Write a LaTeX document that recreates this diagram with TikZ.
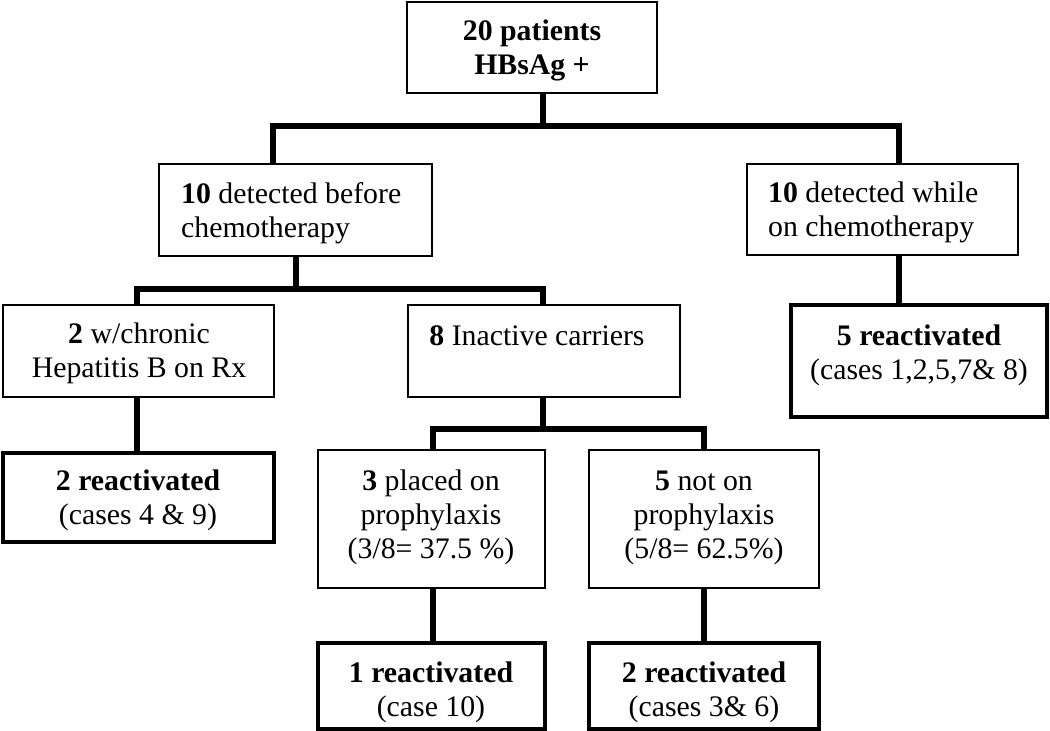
\documentclass[tikz,border=0pt]{standalone}
\usepackage{fontspec}
\setmainfont{Liberation Serif}
\newcommand\fl{\rule{0pt}{22pt}}
\begin{document}
\begin{tikzpicture}[x=1pt,y=-1pt,
  box/.style={draw=black, line width=2.4pt, rectangle, inner sep=0pt},
  rbox/.style={box, line width=3.2pt},
  conn/.style={line width=6pt, line join=miter, line cap=butt},
  txt/.style={inner sep=0pt, anchor=north, align=center, font=\fontsize{29.8}{34}\selectfont},
  ltxt/.style={txt, anchor=north west, align=left}]
\fill[white] (0,0) rectangle (1050,731);
\useasboundingbox (0,0) rectangle (1050,731);

% boxes
\node[box, minimum width=250pt, minimum height=91pt] (n0) at (532,47.5) {};
\node[box, minimum width=273pt, minimum height=92pt] (n1) at (295.5,210) {};
\node[box, minimum width=271pt, minimum height=91pt] (n2) at (882.5,209.5) {};
\node[box, minimum width=271pt, minimum height=92pt] (n3) at (138.5,351) {};
\node[box, minimum width=272pt, minimum height=92pt] (n4) at (544,351) {};
\node[rbox, minimum width=256pt, minimum height=112pt] (n5) at (919,361) {};
\node[rbox, minimum width=271pt, minimum height=89pt] (n6) at (138.5,497.5) {};
\node[box, minimum width=227pt, minimum height=138pt] (n7) at (431.5,519) {};
\node[box, minimum width=230pt, minimum height=138pt] (n8) at (704,519) {};
\node[rbox, minimum width=227pt, minimum height=86pt] (n9) at (431.5,686) {};
\node[rbox, minimum width=230pt, minimum height=86pt] (n10) at (704,686) {};

% texts
\node[txt] (t0) at (532,18) {\fl\textbf{20 patients}\\\textbf{HBsAg +}};
\node[ltxt] (t1) at (181,181) {\fl\textbf{10} detected before\\chemotherapy};
\node[ltxt] (t2) at (768,180) {\fl\textbf{10} detected while\\on chemotherapy};
\node[txt] (t3) at (139,321) {\fl\textbf{2} w/chronic\\Hepatitis B on Rx};
\node[txt] (t4) at (537,323) {\fl\textbf{8} Inactive carriers};
\node[txt] (t5) at (919,323) {\fl\textbf{5 reactivated}\\(cases 1,2,5,7\& 8)};
\node[txt] (t6) at (138,468) {\fl\textbf{2 reactivated}\\(cases 4 \& 9)};
\node[txt] (t7) at (431,468) {\fl\textbf{3} placed on\\prophylaxis\\(3/8= 37.5 \%)};
\node[txt] (t8) at (704,468) {\fl\textbf{5} not on\\prophylaxis\\(5/8= 62.5\%)};
\node[txt] (t9) at (431,660) {\fl\textbf{1 reactivated}\\(case 10)};
\node[txt] (t10) at (704,660) {\fl\textbf{2 reactivated}\\(cases 3\& 6)};

% junction coordinates
\coordinate (jA) at (543,126);
\coordinate (jL) at (273,126);
\coordinate (jR) at (899,126);
\coordinate (jB) at (296,289);
\coordinate (jBL) at (137,289);
\coordinate (jBR) at (543,289);
\coordinate (jE) at (543,429);
\coordinate (jEL) at (433,429);
\coordinate (jER) at (704,429);

% connectors
\draw[conn] (n0.south -| jA) -- (jA);
\draw[conn] (n1.north -| jL) -- (jL) -- (jR) -- (n2.north -| jR);
\draw[conn] (n1.south -| jB) -- (jB);
\draw[conn] (n3.north -| jBL) -- (jBL) -- (jBR) -- (n4.north -| jBR);
\draw[conn] (n2.south -| jR) -- (n5.north -| jR);
\draw[conn] (n3.south -| jBL) -- (n6.north -| jBL);
\draw[conn] (n4.south -| jE) -- (jE);
\draw[conn] (n7.north -| jEL) -- (jEL) -- (jER) -- (n8.north -| jER);
\draw[conn] (n7.south -| jEL) -- (n9.north -| jEL);
\draw[conn] (n8.south -| jER) -- (n10.north -| jER);
\end{tikzpicture}
\end{document}
